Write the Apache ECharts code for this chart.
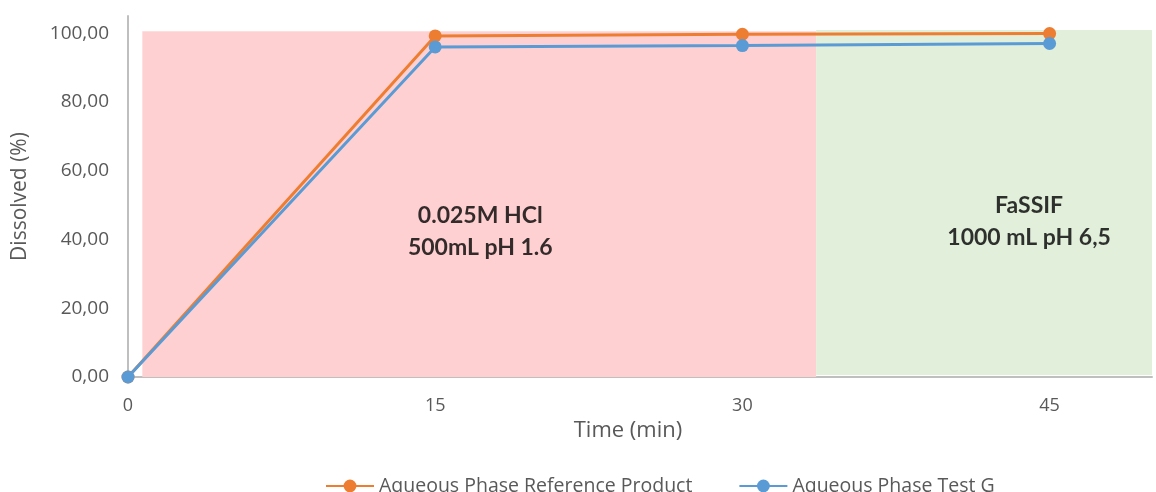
<!DOCTYPE html>
<html>
<head>
<meta charset="utf-8">
<script src="https://cdn.jsdelivr.net/npm/echarts@6/dist/echarts.min.js"></script>
<style>
  html, body { margin: 0; padding: 0; background: #ffffff; }
  #chart { width: 1156px; height: 492px; }
</style>
</head>
<body>
<div id="chart"></div>
<script>
// Sampling times (min) and dissolved fraction (%) for each product
const times = [0, 15, 30, 45];
const referenceProduct = [0, 99.2, 99.7, 99.9];
const testG = [0, 96.0, 96.4, 97.0];

const seriesNames = ['Aqueous Phase Reference Product', 'Aqueous Phase Test G'];

// Dissolution media phases: [xStart, xEnd, yBottom, yTop]
const acidPhase = [0.7, 33.6, -0.6, 100.6];
const fassifPhase = [33.6, 50, 0.6, 100.9];
const acidLabel = ['0.025M HCl', '500mL pH 1.6'];
const fassifLabel = ['FaSSIF', '1000 mL pH 6,5'];
const acidLabelPos = [17.2, 42.2];
const fassifLabelPos = [44.0, 45.3];

const tickFont = 'Open Sans';
const grey = '#595959';

function pairs(xs, ys) { return xs.map((x, i) => [x, ys[i]]); }

const chart = echarts.init(document.getElementById('chart'), null, { renderer: 'canvas' });

chart.setOption({
  animation: false,
  backgroundColor: '#ffffff',
  grid: { left: 128, right: 4, top: 16, bottom: 115, containLabel: false },
  legend: {
    data: seriesNames,
    left: 320,
    top: 470,
    itemWidth: 48,
    itemHeight: 16,
    itemGap: 46,
    textStyle: { fontFamily: tickFont, fontSize: 19.5, color: grey, lineHeight: 22 }
  },
  xAxis: {
    type: 'value',
    min: 0,
    max: 50,
    interval: 15,
    name: 'Time (min)',
    nameLocation: 'middle',
    nameGap: 28,
    nameTextStyle: { fontFamily: tickFont, fontSize: 22, color: grey, padding: [0, 24, 0, 0] },
    axisLine: { show: true, lineStyle: { color: '#BFBFBF', width: 2 } },
    axisTick: { show: false },
    splitLine: { show: false },
    axisLabel: { margin: 20, fontFamily: tickFont, fontSize: 18, color: grey, showMaxLabel: false }
  },
  yAxis: {
    type: 'value',
    min: 0,
    max: 105,
    interval: 20,
    name: 'Dissolved (%)',
    nameLocation: 'middle',
    nameGap: 97,
    nameTextStyle: { fontFamily: tickFont, fontSize: 21, color: grey },
    axisLine: { show: true, lineStyle: { color: '#BFBFBF', width: 2 } },
    axisTick: { show: false },
    splitLine: { show: false },
    axisLabel: {
      margin: 19, fontFamily: tickFont, fontSize: 19, color: grey, showMaxLabel: false,
      formatter: v => v.toFixed(2).replace('.', ',')
    }
  },
  series: [
    {
      name: 'phases',
      type: 'line',
      data: [],
      silent: true,
      z: 0,
      markArea: {
        silent: true,
        label: { show: false },
        data: [
          [
            { xAxis: acidPhase[0], yAxis: acidPhase[2], itemStyle: { color: '#FFD0D2' } },
            { xAxis: acidPhase[1], yAxis: acidPhase[3] }
          ],
          [
            { xAxis: fassifPhase[0], yAxis: fassifPhase[2], itemStyle: { color: '#E2EFDA' } },
            { xAxis: fassifPhase[1], yAxis: fassifPhase[3] }
          ]
        ]
      }
    },
    {
      name: 'phase labels',
      type: 'scatter',
      symbolSize: 0,
      silent: true,
      z: 1,
      data: [
        { value: acidLabelPos, label: { formatter: acidLabel.join('\n') } },
        { value: fassifLabelPos, label: { formatter: fassifLabel.join('\n') } }
      ],
      label: {
        show: true,
        position: 'inside',
        fontFamily: 'Lato',
        fontWeight: 'bold',
        fontSize: 23,
        lineHeight: 32,
        color: '#000000',
        align: 'center',
        verticalAlign: 'middle'
      }
    },
    {
      name: seriesNames[0],
      type: 'line',
      data: pairs(times, referenceProduct),
      symbol: 'circle',
      symbolSize: 13,
      z: 3,
      color: '#ED7D31',
      lineStyle: { width: 3, color: '#ED7D31' },
      itemStyle: { color: '#ED7D31' }
    },
    {
      name: seriesNames[1],
      type: 'line',
      data: pairs(times, testG),
      symbol: 'circle',
      symbolSize: 13,
      z: 4,
      color: '#5B9BD5',
      lineStyle: { width: 3, color: '#5B9BD5' },
      itemStyle: { color: '#5B9BD5' }
    }
  ]
});
</script>
</body>
</html>
